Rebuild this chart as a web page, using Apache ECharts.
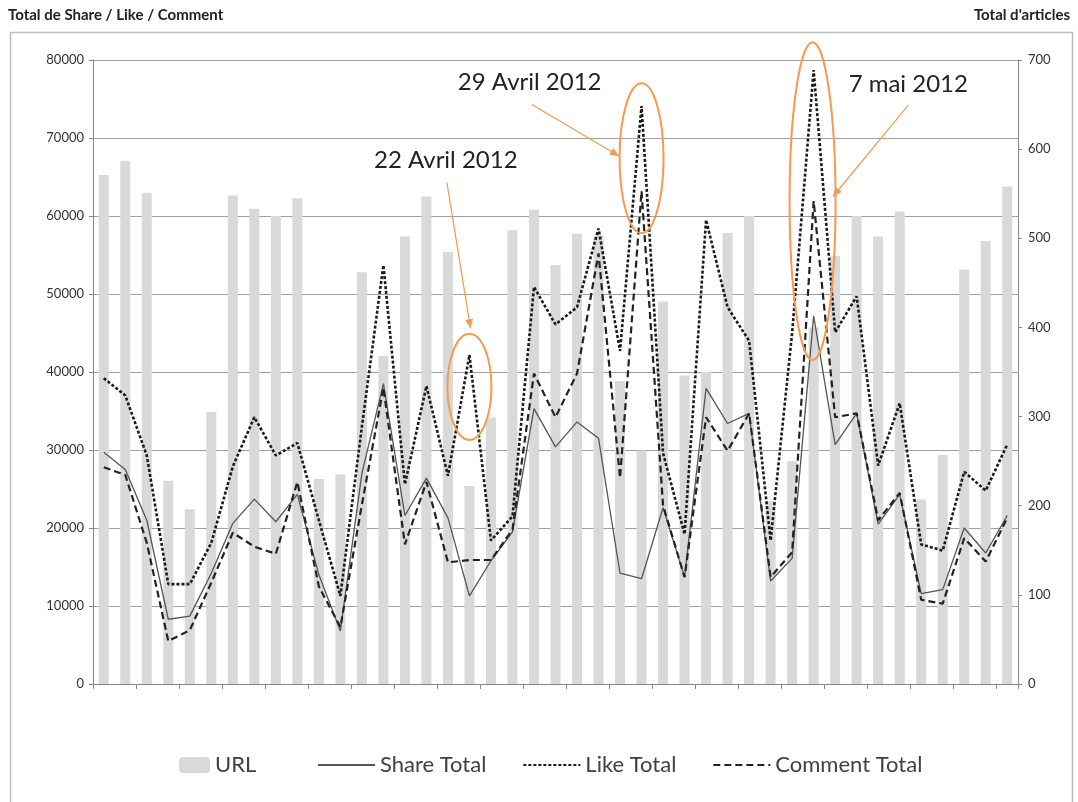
<!DOCTYPE html>
<html>
<head>
<meta charset="utf-8">
<script src="https://cdn.jsdelivr.net/npm/echarts@6/dist/echarts.min.js"></script>
<style>
html,body{margin:0;padding:0;background:#fff;}
#chart{width:1078px;height:802px;}
</style>
</head>
<body>
<div id="chart"></div>
<script>
// ---- data ----
const categories = Array.from({length: 43}, (_, i) => String(i + 1));
const urlTotal = [571,587,551,228,196,305,548,533,525,545,230,235,462,368,502,547,485,222,299,509,532,470,505,503,340,262,429,346,350,506,525,205,250,400,480,525,502,530,207,257,465,497,558];
const shareTotal = [29700,27500,21000,8300,8700,14200,20600,23700,20800,24300,14000,6800,27000,38500,21600,26400,21300,11300,15800,19500,35300,30400,33600,31500,14200,13500,22600,13700,37900,33400,34700,13200,16100,47200,30700,34700,20500,24300,11600,12100,20000,16800,21600];
const likeTotal = [39200,37000,29300,12800,12800,18100,27900,34200,29300,30900,21000,11300,33000,53700,25600,38200,26700,42200,18400,21500,50900,46100,48300,58400,42700,74100,29600,19200,59500,48300,44000,18400,45000,78700,45100,49700,28000,36000,17900,17100,27200,24800,30700];
const commentTotal = [27800,26800,18100,5500,6900,13000,19400,17600,16700,25900,12500,7300,23000,38000,17900,25900,15600,15900,15900,19800,39800,34200,39800,55200,26400,63200,22900,13700,34200,29900,34700,13700,16900,61900,34200,34700,21000,24500,10800,10300,18700,15700,21300];
const leftTicks = {min: 0, max: 80000, interval: 10000};
const rightTicks = {min: 0, max: 700, interval: 100};
const leftAxisName = 'Total de Share / Like / Comment';
const rightAxisName = "Total d'articles";
// annotations: [category index (0-based, fractional), left-axis value]
const annotations = [
  {label: '22 Avril 2012', text: [15.9, 67200], ellipse: [17.0, 38100], rx: 22, ry: 53, from: [15.95, 64300], to: [17.05, 45600]},
  {label: '29 Avril 2012', text: [19.8, 77200], ellipse: [25.0, 67400], rx: 22, ry: 75, from: [19.9, 74300], to: [23.95, 67700]},
  {label: '7 mai 2012', text: [37.4, 76900], ellipse: [32.95, 61900], rx: 23, ry: 159, from: [37.4, 74200], to: [33.9, 62500]}
];

const FONT = 'Lato, "Noto Sans", sans-serif';
const chart = echarts.init(document.getElementById('chart'));
const option = {
  animation: false,
  backgroundColor: '#fff',
  grid: {left: 93, right: 60, top: 60, bottom: 118},
  legend: [
    {data: ['URL'], left: 174, top: 749, itemWidth: 31, itemHeight: 16, itemGap: 10,
     textStyle: {fontFamily: FONT, fontSize: 22, color: '#404040'}},
    {data: ['Share Total', 'Like Total', 'Comment Total'], left: 312, top: 749, itemWidth: 57, itemHeight: 14, itemGap: 36,
     itemStyle: {opacity: 0},
     textStyle: {fontFamily: FONT, fontSize: 22, color: '#404040'}}
  ],
  xAxis: {
    type: 'category', data: categories, boundaryGap: true,
    axisLine: {lineStyle: {color: '#868686', width: 1}},
    axisTick: {show: true, interval: 1, length: 5, lineStyle: {color: '#868686'}},
    axisLabel: {show: false}
  },
  yAxis: [
    {type: 'value', min: leftTicks.min, max: leftTicks.max, interval: leftTicks.interval,
     axisLine: {show: true, lineStyle: {color: '#868686'}},
     axisTick: {show: true, length: 4, lineStyle: {color: '#868686'}},
     axisLabel: {fontFamily: FONT, fontSize: 13, color: '#333', margin: 9, formatter: v => String(v)},
     splitLine: {lineStyle: {color: '#a0a0a0', width: 1}}},
    {type: 'value', min: rightTicks.min, max: rightTicks.max, interval: rightTicks.interval,
     axisLine: {show: true, lineStyle: {color: '#868686'}},
     axisTick: {show: true, length: 4, lineStyle: {color: '#868686'}},
     axisLabel: {fontFamily: FONT, fontSize: 13, color: '#333', margin: 10, formatter: v => String(v)},
     splitLine: {show: false}}
  ],
  series: [
    {name: 'URL', type: 'bar', yAxisIndex: 1, data: urlTotal, barWidth: 10,
     itemStyle: {color: '#d9d9d9'}, z: 1},
    {name: 'Share Total', type: 'line', data: shareTotal, symbol: 'none', showSymbol: false,
     lineStyle: {color: '#555', width: 1.3, type: 'solid'}, itemStyle: {color: '#555'}, z: 3},
    {name: 'Like Total', type: 'line', data: likeTotal, symbol: 'none', showSymbol: false,
     lineStyle: {color: '#1a1a1a', width: 2.6, type: [3, 2]}, itemStyle: {color: '#1a1a1a'}, z: 4},
    {name: 'Comment Total', type: 'line', data: commentTotal, symbol: 'none', showSymbol: false,
     lineStyle: {color: '#222', width: 2.2, type: [7, 4]}, itemStyle: {color: '#222'}, z: 4}
  ]
};
chart.setOption(option);

function px(pt) {
  const i = Math.floor(pt[0]);
  const f = pt[0] - i;
  const a = chart.convertToPixel({xAxisIndex: 0, yAxisIndex: 0}, [i, pt[1]]);
  const b = chart.convertToPixel({xAxisIndex: 0, yAxisIndex: 0}, [i + 1, pt[1]]);
  return [a[0] + f * (b[0] - a[0]), a[1]];
}
const ORANGE = '#f59a4e';
const graphics = [
  {type: 'rect', left: 8, top: 30, shape: {width: 1062, height: 771}, style: {fill: 'none', stroke: '#bcbcbc', lineWidth: 1.5}, silent: true, z: -1},
  {type: 'text', left: 8, top: 8, style: {text: leftAxisName, fontFamily: FONT, fontSize: 15, fontWeight: 'bold', fill: '#222'}},
  {type: 'text', right: 8, top: 8, style: {text: rightAxisName, fontFamily: FONT, fontSize: 15, fontWeight: 'bold', fill: '#222'}}
];
annotations.forEach(a => {
  const c = px(a.ellipse);
  const t = px(a.text);
  const p1 = px(a.from);
  const p2 = px(a.to);
  graphics.push({type: 'ellipse', shape: {cx: c[0], cy: c[1], rx: a.rx, ry: a.ry}, style: {fill: 'none', stroke: ORANGE, lineWidth: 2}, z: 100});
  graphics.push({type: 'text', x: t[0], y: t[1], style: {text: a.label, fontFamily: FONT, fontSize: 24, fill: '#222', align: 'center', verticalAlign: 'middle'}, z: 100});
  graphics.push({type: 'line', shape: {x1: p1[0], y1: p1[1], x2: p2[0], y2: p2[1]}, style: {stroke: ORANGE, lineWidth: 1.2}, z: 100});
  const ang = Math.atan2(p2[1] - p1[1], p2[0] - p1[0]);
  const L = 9, W = 4;
  const bx = p2[0] - L * Math.cos(ang), by = p2[1] - L * Math.sin(ang);
  graphics.push({type: 'polygon', shape: {points: [[p2[0], p2[1]], [bx + W * Math.sin(ang), by - W * Math.cos(ang)], [bx - W * Math.sin(ang), by + W * Math.cos(ang)]]}, style: {fill: ORANGE}, z: 100});
});
chart.setOption({graphic: graphics});
</script>
</body>
</html>
